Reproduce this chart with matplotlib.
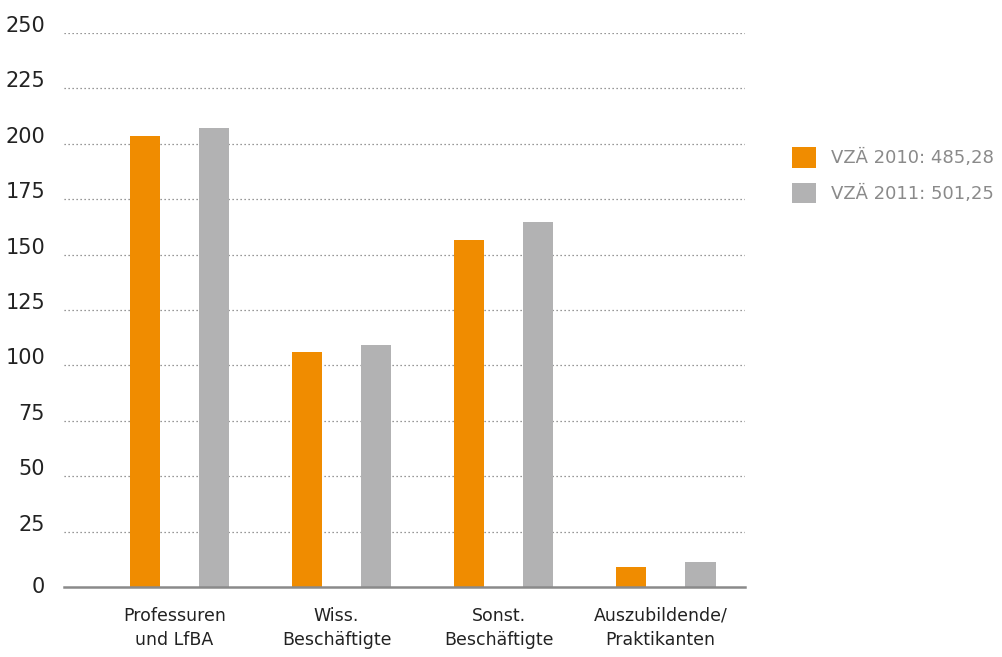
import matplotlib.pyplot as plt
import matplotlib.transforms as mtransforms
import numpy as np

# Data
categories = ["Professuren\nund LfBA", "Wiss.\nBeschäftigte",
              "Sonst.\nBeschäftigte", "Auszubildende/\nPraktikanten"]
vza_2010 = [203.5, 106.1, 156.6, 9.2]
vza_2011 = [207.1, 109.3, 164.7, 11.4]
series_labels = ["VZÄ 2010: 485,28", "VZÄ 2011: 501,25"]
yticks = [0, 25, 50, 75, 100, 125, 150, 175, 200, 225, 250]

ORANGE = "#f08c00"
GREY = "#b2b2b3"

fig = plt.figure(figsize=(10.03, 6.57), dpi=100)
W, H = 1003, 657
ax = fig.add_axes([64 / W, (H - 587.3) / H, (745 - 64) / W, (587.3 - 32.7) / H])

x = np.arange(len(categories))
off = 0.213
width = 0.19
ax.bar(x - off, vza_2010, width, color=ORANGE, label=series_labels[0], zorder=3)
ax.bar(x + off, vza_2011, width, color=GREY, label=series_labels[1], zorder=3)

ax.set_xlim(-0.713, 3.49)
ax.set_ylim(0, 250)
ax.set_yticks(yticks)
ax.set_xticks(x)
ax.set_xticklabels(categories, fontsize=12.5, color="#222222", linespacing=1.45)

# dotted gridlines
for v in yticks[1:]:
    ax.axhline(v, color="#777777", linestyle=(0, (1, 2.2)), linewidth=0.9, zorder=1)

for s in ["top", "right", "left"]:
    ax.spines[s].set_visible(False)
ax.spines["bottom"].set_color("#8a8a8a")
ax.spines["bottom"].set_linewidth(1.8)
ax.spines["bottom"].set_zorder(4)

ax.tick_params(axis="y", length=0, pad=13.5, labelsize=15, labelcolor="#222222")
ax.tick_params(axis="x", length=0, pad=14)

# nudge the y labels up like in the reference
for t, lab in zip(yticks, ax.get_yticklabels()):
    dy = 2 if t == 0 else 9
    lab.set_transform(lab.get_transform() +
                      mtransforms.ScaledTranslation(0, dy / 100, fig.dpi_scale_trans))
for lab in ax.get_xticklabels():
    lab.set_transform(lab.get_transform() +
                      mtransforms.ScaledTranslation(-5 / 100, 0, fig.dpi_scale_trans))

leg = fig.legend(loc="upper left", bbox_to_anchor=(776 / W, 1 - 131 / H),
                 frameon=False, fontsize=13, handlelength=1.3, handleheight=1.35,
                 handletextpad=0.85, labelspacing=0.85, labelcolor="#8a8a8a")

fig.savefig("out.png", dpi=100)
